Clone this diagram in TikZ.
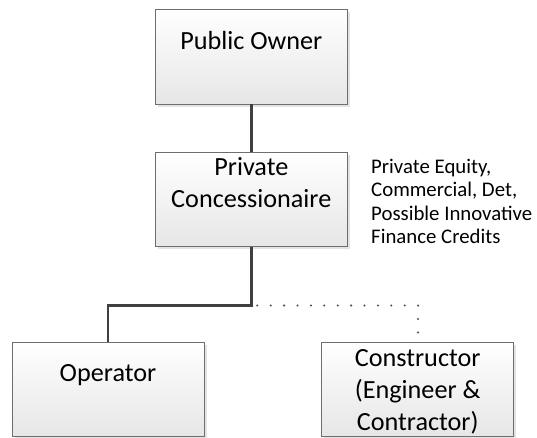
\documentclass[tikz,border=0pt]{standalone}
\usepackage{fontspec}
\setmainfont{Carlito}
\usetikzlibrary{shadows}
\definecolor{boxline}{HTML}{6E6E6E}
\definecolor{boxtop}{HTML}{FFFFFF}
\definecolor{boxbot}{HTML}{E6E6E6}
\definecolor{conn}{HTML}{404040}
\definecolor{dotcol}{HTML}{505050}
\tikzset{
  box/.style={draw=boxline, line width=0.9pt, top color=boxtop, bottom color=boxbot,
    drop shadow={opacity=0.22, shadow xshift=2.5pt, shadow yshift=-2.5pt, fill=gray},
    inner sep=0pt, minimum width=192pt, minimum height=94.5pt},
  boxtext/.style={font=\fontsize{26.2}{31.7}\selectfont, align=center, inner sep=0pt, text=black},
  sidetext/.style={font=\fontsize{20.8}{23.4}\selectfont, align=left, inner sep=0pt, anchor=north west},
  solidconn/.style={draw=conn, line width=2.4pt},
  dotconn/.style={draw=dotcol, line width=2.3pt, line cap=round, dash pattern=on 0pt off 13.4pt}
}
\begin{document}
\begin{tikzpicture}[x=1pt, y=-1pt]
\useasboundingbox (0,0) rectangle (537,438);
\node[box, label={[boxtext, anchor=base, yshift=-40.2pt]north:Public Owner}] (po) at (251.3,56.8) {};
\node[box, label={[boxtext, anchor=north, yshift=-3.4pt]north:\rule{0pt}{20pt}Private\\Concessionaire}] (pc) at (251.3,199.5) {};
\node[box, label={[boxtext, anchor=base, yshift=-39.7pt]north:Operator}] (op) at (108,389.5) {};
\node[box, label={[boxtext, anchor=north, yshift=-4.7pt]north:\rule{0pt}{20pt}Constructor\\(Engineer \&\\Contractor)}] (co) at (417.7,389.5) {};
\node[sidetext] (fin) at (371,157) {\rule{0pt}{16pt}Private Equity,\\Commercial, Det,\\Possible Innovative\\Finance Credits};
\coordinate (junc) at (251.3,305.3);
\coordinate (dotstart) at (257.3,305.5);
\coordinate (dotcorner) at (418,305.5);
\coordinate (dotend) at (418,332.5);
\draw[solidconn] (po) -- (pc);
\draw[solidconn] (pc.south) -- (junc) -| (op.north);
\draw[dotconn] (dotstart) -- (dotcorner) -- (dotend);
\end{tikzpicture}
\end{document}
